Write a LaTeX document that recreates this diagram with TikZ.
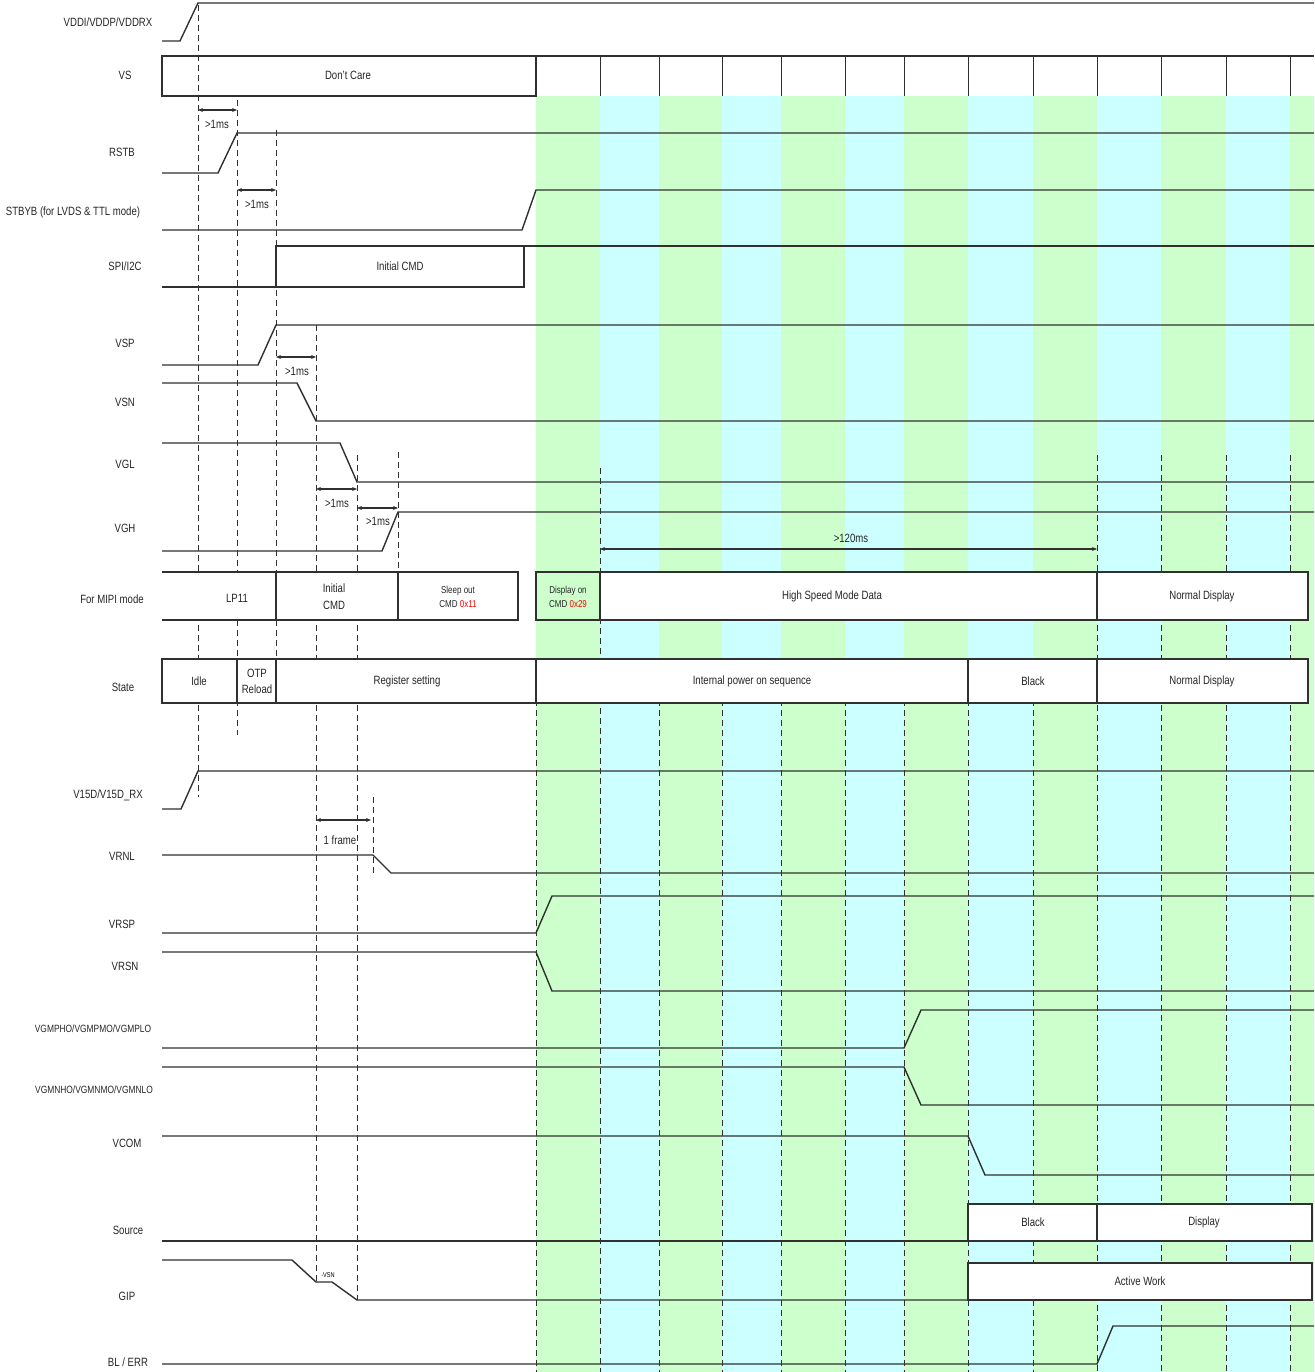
\documentclass[tikz,border=0pt]{standalone}
\usepackage{fontspec}
\setmainfont[FakeStretch=0.8]{Liberation Sans}
\usetikzlibrary{arrows.meta}
\definecolor{sgreen}{HTML}{CCFFCC}
\definecolor{sblue}{HTML}{CCFFFF}
\definecolor{ln}{HTML}{303030}
\begin{document}
\begin{tikzpicture}[x=1pt,y=-1pt,
  sig/.style={draw=ln,line width=1.4pt},
  thinln/.style={draw=ln,line width=1pt},
  dsh/.style={draw=ln,line width=0.9pt,dash pattern=on 6pt off 4pt},
  lbl/.style={font=\fontsize{12}{14}\selectfont,text=black!85,inner sep=0pt},
  txt/.style={font=\fontsize{12}{14}\selectfont,text=black!85,inner sep=0pt,align=center},
  small/.style={font=\fontsize{10}{12}\selectfont,text=black!85,inner sep=0pt,align=center},
  dim/.style={draw=ln,line width=1.2pt,{Stealth[length=5pt,width=4pt]}-{Stealth[length=5pt,width=4pt]}},
  box/.style={draw=ln,line width=1.3pt,fill=white},
]
\useasboundingbox (0,0) rectangle (1314,1372);
% stripes
\foreach \a/\b/\c in {536/600/sgreen,600/659/sblue,659/722/sgreen,722/781/sblue,781/845/sgreen,845/904/sblue,904/968/sgreen,968/1033/sblue,1033/1097/sgreen,1097/1161/sblue,1161/1226/sgreen,1226/1290/sblue,1290/1314/sgreen}
  \fill[\c] (\a,96) rectangle (\b,1372);
% dashed guides (left)
\draw[dsh] (198,5) -- (198,797);
\draw[dsh] (237,100) -- (237,735);
\draw[dsh] (276,130) -- (276,660);
\draw[dsh] (316,325) -- (316,1282);
\draw[dsh] (357,455) -- (357,1300);
\draw[dsh] (398,452) -- (398,572);
\draw[dsh] (373,797) -- (373,877);
% dashed guides (right)
\foreach \x in {536,659,722,781,845,904,968,1033}
  \draw[dsh] (\x,700) -- (\x,1372);
\draw[dsh] (600,468) -- (600,1372);
\foreach \x in {1097,1161,1226,1290}
  \draw[dsh] (\x,455) -- (\x,1372);

% VDDI
\node[lbl] (lVDD) at (108,22) {VDDI/VDDP/VDDRX};
\draw[sig] (162,41) -- (180,41) -- (198,3) -- (1314,3);
% VS
\node[lbl] (lVS) at (125,75) {VS};
\draw[sig] (162,56) -- (1314,56);
\draw[sig] (162,56) rectangle (536,96);
\node[txt] (dc) at (348,75) {Don't Care};
\foreach \x in {600,659,722,781,845,904,968,1033,1097,1161,1226,1290}
  \draw[thinln] (\x,56) -- (\x,96);
% RSTB
\draw[dim] (198,110) -- (237,110);
\node[txt] (t1) at (217,124) {>1ms};
\node[lbl] (lRSTB) at (122,152) {RSTB};
\draw[sig] (162,173) -- (218,173) -- (237,133) -- (1314,133);
% STBYB
\draw[dim] (237,190) -- (276,190);
\node[txt] (t2) at (257,204) {>1ms};
\node[lbl] (lSTBYB) at (73,212) {STBYB (for LVDS \& TTL mode)};
\draw[sig] (162,230) -- (522,230) -- (536,190) -- (1314,190);
% SPI/I2C
\node[lbl] (lSPI) at (125,266) {SPI/I2C};
\draw[sig] (162,287) -- (524,287) -- (524,246) -- (276,246) -- (276,287);
\draw[sig] (524,246) -- (1314,246);
\node[txt] (icmd) at (400,266) {Initial CMD};
% VSP
\node[lbl] (lVSP) at (125,343) {VSP};
\draw[sig] (162,365) -- (258,365) -- (276,325) -- (1314,325);
\draw[dim] (276,357) -- (316,357);
\node[txt] (t3) at (297,371) {>1ms};
% VSN
\node[lbl] (lVSN) at (125,402) {VSN};
\draw[sig] (162,383) -- (297,383) -- (316,421) -- (1314,421);
% VGL
\node[lbl] (lVGL) at (125,464) {VGL};
\draw[sig] (162,443) -- (340,443) -- (357,482) -- (1314,482);
\draw[dim] (316,489) -- (357,489);
\node[txt] (t4) at (337,503) {>1ms};
% VGH
\node[lbl] (lVGH) at (125,528) {VGH};
\draw[sig] (162,551) -- (382,551) -- (398,512) -- (1314,512);
\draw[dim] (357,508) -- (398,508);
\node[txt] (t5) at (378,521) {>1ms};
% 120ms
\draw[dim] (600,549) -- (1097,549);
\node[txt] (t120) at (851,538) {>120ms};
% MIPI
\node[lbl] (lMIPI) at (112,599) {For MIPI mode};
\fill[white] (162,572) rectangle (518,620);
\draw[sig] (162,572) -- (518,572);
\draw[sig] (162,620) -- (518,620);
\draw[box,fill=none] (276,572) rectangle (398,620);
\draw[box,fill=none] (398,572) rectangle (518,620);
\node[txt] (lp11) at (237,598) {LP11};
\node[txt] (micmd) at (334,597) {Initial\\[3pt]CMD};
\node[small] (slp) at (458,597) {Sleep out\\[2pt]CMD {\color{red}0x11}};
\draw[box,fill=none] (536,572) rectangle (600,620);
\node[small] (dsp) at (568,597) {Display on\\[2pt]CMD {\color{red}0x29}};
\draw[box] (600,572) rectangle (1097,620);
\node[txt] (hs) at (832,596) {High Speed Mode Data};
\draw[box] (1097,572) rectangle (1308,620);
\node[txt] (nd1) at (1202,596) {Normal Display};
% State
\node[lbl] (lState) at (123,687) {State};
\draw[box] (162,659) rectangle (1308,703);
\foreach \x in {237,276,536,968,1097}
  \draw[sig] (\x,659) -- (\x,703);
\node[txt] (sidle) at (199,681) {Idle};
\node[txt] (sotp) at (257,681) {OTP\\[2pt]Reload};
\node[txt] (sreg) at (407,681) {Register setting};
\node[txt] (sint) at (752,681) {Internal power on sequence};
\node[txt] (sblk) at (1033,681) {Black};
\node[txt] (snd) at (1202,681) {Normal Display};
% V15D
\node[lbl] (lV15) at (108,795) {V15D/V15D\_RX};
\draw[sig] (162,809) -- (181,809) -- (198,771) -- (1314,771);
% VRNL
\draw[dim] (316,820) -- (371,820);
\node[txt] (tfr) at (340,840) {1 frame};
\node[lbl] (lVRNL) at (122,856) {VRNL};
\draw[sig] (162,855) -- (373,855) -- (391,873) -- (1314,873);
% VRSP / VRSN
\node[lbl] (lVRSP) at (122,924) {VRSP};
\draw[sig] (162,933) -- (536,933) -- (552,896) -- (1314,896);
\node[lbl] (lVRSN) at (125,966) {VRSN};
\draw[sig] (162,952) -- (536,952) -- (552,991) -- (1314,991);
% VGMP / VGMN
\node[lbl,font=\fontsize{10.5}{12}\selectfont] (lVGMP) at (93,1029) {VGMPHO/VGMPMO/VGMPLO};
\draw[sig] (162,1048) -- (904,1048) -- (921,1010) -- (1314,1010);
\node[lbl,font=\fontsize{10.5}{12}\selectfont] (lVGMN) at (94,1090) {VGMNHO/VGMNMO/VGMNLO};
\draw[sig] (162,1067) -- (904,1067) -- (921,1105) -- (1314,1105);
% VCOM
\node[lbl] (lVCOM) at (127,1143) {VCOM};
\draw[sig] (162,1136) -- (968,1136) -- (985,1175) -- (1314,1175);
% Source
\node[lbl] (lSrc) at (128,1230) {Source};
\draw[sig] (162,1241) -- (968,1241);
\draw[box] (968,1204) rectangle (1312,1241);
\draw[sig] (1097,1204) -- (1097,1241);
\node[txt] (srcb) at (1033,1222) {Black};
\node[txt] (srcd) at (1204,1222) {Display};
% GIP
\node[lbl] (lGIP) at (127,1296) {GIP};
\draw[sig] (162,1260) -- (292,1260) -- (316,1282) -- (332,1282) -- (357,1300) -- (968,1300);
\node[font=\fontsize{7}{8}\selectfont,inner sep=0pt] (tvsn) at (328,1275) {-VSN};
\draw[box] (968,1263) rectangle (1312,1300);
\node[txt] (act) at (1140,1281) {Active Work};
% BL/ERR
\node[lbl] (lBL) at (128,1362) {BL / ERR};
\draw[sig] (162,1364) -- (1097,1364) -- (1113,1326) -- (1314,1326);
\end{tikzpicture}
\end{document}
